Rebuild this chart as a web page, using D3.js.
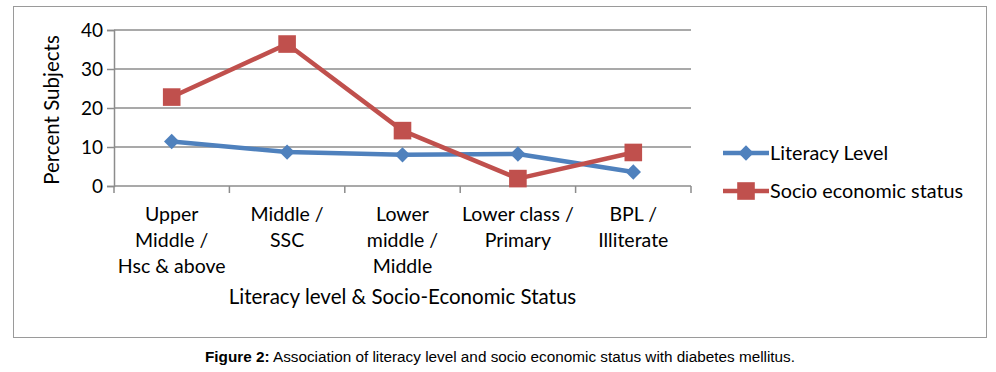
<!DOCTYPE html>
<html>
<head>
<meta charset="utf-8">
<script src="https://cdn.jsdelivr.net/npm/d3@7"></script>
<style>
  body { margin: 0; background: #fff; }
  svg { display: block; }
</style>
</head>
<body>
<svg id="drawing_region"></svg>
<script>
const categories = [
    ["Upper", "Middle /", "Hsc & above"],
    ["Middle /", "SSC"],
    ["Lower", "middle /", "Middle"],
    ["Lower class /", "Primary"],
    ["BPL /", "Illiterate"]
];
const literacy = [11.4, 8.7, 8.0, 8.2, 3.6];
const socio = [22.8, 36.4, 14.2, 1.9, 8.6];
const yticks = [0, 10, 20, 30, 40];
const seriesNames = ["Literacy Level", "Socio economic status"];

const W = 996, H = 372;
const font = "Lato, 'Open Sans', sans-serif";
const blue = "#4f81bd", red = "#c0504d", grid = "#8c8c8c";

const svg = d3.select("#drawing_region")
    .attr("width", W)
    .attr("height", H);

// outer chart frame
svg.append("rect")
    .attr("x", 13.5).attr("y", 6.5)
    .attr("width", 973).attr("height", 331)
    .attr("fill", "none")
    .attr("stroke", "#9a9a9a")
    .attr("stroke-width", 1);

const plot = { left: 114, right: 691, top: 30, bottom: 186 };

const xscale = d3.scaleBand()
    .domain(d3.range(categories.length))
    .range([plot.left, plot.right]);

const yscale = d3.scaleLinear()
    .domain([0, 40])
    .range([plot.bottom, plot.top]);

// horizontal grid
svg.append("g")
    .selectAll("line")
    .data(yticks.filter(t => t > 0))
    .enter()
    .append("line")
    .attr("x1", plot.left).attr("x2", plot.right)
    .attr("y1", d => yscale(d)).attr("y2", d => yscale(d))
    .attr("stroke", grid)
    .attr("stroke-width", 1.5);

// y axis
const yaxis = d3.axisLeft(yscale).tickValues(yticks).tickSize(7).tickPadding(4);
const yg = svg.append("g")
    .attr("transform", `translate(${plot.left},0)`)
    .call(yaxis);
yg.select(".domain").attr("stroke", grid).attr("stroke-width", 1.5);
yg.selectAll(".tick line").attr("stroke", grid).attr("stroke-width", 1.5);
yg.selectAll(".tick text")
    .attr("font-family", font)
    .attr("font-size", 19)
    .attr("fill", "#000");

// x axis line and tick marks at category boundaries
const xg = svg.append("g");
xg.append("line")
    .attr("x1", plot.left).attr("x2", plot.right)
    .attr("y1", plot.bottom).attr("y2", plot.bottom)
    .attr("stroke", grid).attr("stroke-width", 1.5);
const bounds = d3.range(categories.length + 1).map(i =>
    i < categories.length ? xscale(i) : xscale(i - 1) + xscale.bandwidth());
xg.selectAll(".xt")
    .data(bounds)
    .enter()
    .append("line")
    .attr("class", "xt")
    .attr("x1", d => d).attr("x2", d => d)
    .attr("y1", plot.bottom).attr("y2", plot.bottom + 7)
    .attr("stroke", grid).attr("stroke-width", 1.5);

// category labels
const cat = svg.append("g")
    .selectAll("text")
    .data(categories)
    .enter()
    .append("text")
    .attr("text-anchor", "middle")
    .attr("font-family", font)
    .attr("font-size", 19.5)
    .attr("fill", "#000");
cat.each(function(lines, i) {
    d3.select(this).selectAll("tspan")
        .data(lines)
        .enter()
        .append("tspan")
        .attr("x", xscale(i) + xscale.bandwidth() / 2)
        .attr("y", (d, j) => 221 + j * 26)
        .text(d => d);
});

// axis titles
svg.append("text")
    .attr("x", (plot.left + plot.right) / 2)
    .attr("y", 304)
    .attr("text-anchor", "middle")
    .attr("font-family", font)
    .attr("font-size", 20.5)
    .text("Literacy level & Socio-Economic Status");

svg.append("text")
    .attr("transform", "translate(59,110) rotate(-90)")
    .attr("text-anchor", "middle")
    .attr("font-family", font)
    .attr("font-size", 20.5)
    .text("Percent Subjects");

// series
const line = d3.line()
    .x((d, i) => xscale(i) + xscale.bandwidth() / 2)
    .y(d => yscale(d));

const series = [
    { name: seriesNames[0], values: literacy, color: blue, symbol: d3.symbolDiamond2, size: 150 },
    { name: seriesNames[1], values: socio, color: red, symbol: d3.symbolSquare, size: 310 }
];

series.forEach(s => {
    svg.append("path")
        .datum(s.values)
        .attr("d", line)
        .attr("fill", "none")
        .attr("stroke", s.color)
        .attr("stroke-width", 4.5)
        .attr("stroke-linejoin", "round");
});
series.forEach(s => {
    svg.append("g")
        .selectAll("path")
        .data(s.values)
        .enter()
        .append("path")
        .attr("transform", (d, i) => `translate(${xscale(i) + xscale.bandwidth() / 2},${yscale(d)})`)
        .attr("d", d3.symbol().type(s.symbol).size(s.size))
        .attr("fill", s.color);
});

// legend
const legend = svg.append("g")
    .selectAll("g")
    .data(series)
    .enter()
    .append("g")
    .attr("transform", (d, i) => `translate(723,${153 + i * 38})`);
legend.append("line")
    .attr("x1", 0).attr("x2", 46)
    .attr("stroke", d => d.color)
    .attr("stroke-width", 4.5);
legend.append("path")
    .attr("transform", "translate(23,0)")
    .attr("d", d => d3.symbol().type(d.symbol).size(d.size)())
    .attr("fill", d => d.color);
legend.append("text")
    .attr("x", 47)
    .attr("y", 7)
    .attr("font-family", font)
    .attr("font-size", 19.8)
    .text(d => d.name);

// caption
const cap = svg.append("text")
    .attr("x", 500)
    .attr("y", 362)
    .attr("text-anchor", "middle")
    .attr("font-family", "'Liberation Sans', Arial, sans-serif")
    .attr("font-size", 15.3);
cap.append("tspan").attr("font-weight", "bold").text("Figure 2:");
cap.append("tspan").text(" Association of literacy level and socio economic status with diabetes mellitus.");
</script>
</body>
</html>
